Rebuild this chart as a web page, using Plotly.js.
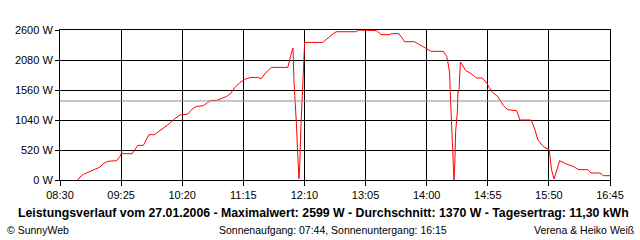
<!DOCTYPE html>
<html>
<head>
<meta charset="utf-8">
<script src="https://cdn.plot.ly/plotly-3.0.1.min.js"></script>
<style>html,body{margin:0;padding:0;background:#fff;}#chart{width:640px;height:240px;}</style>
</head>
<body>
<div id="chart"></div>
<script>
var day = "2006-01-27";
var times = ["08:46","08:48","08:51","08:55","08:58","09:02","09:06","09:09","09:13","09:21","09:24","09:25","09:35","09:40","09:45","09:48","09:50","09:55","10:00","10:05","10:09","10:13","10:18","10:25","10:30","10:33","10:39","10:43","10:46","10:51","10:55","11:00","11:04","11:07","11:12","11:17","11:22","11:28","11:31","11:35","11:40","11:55","11:58","11:59:40","12:00:35","12:01:55","12:02:50","12:03:40","12:04:35","12:05:05","12:05:40","12:06:00","12:06:55","12:07:50","12:08:40","12:09:35","12:10:10","12:26:30","12:29","12:33","12:37","12:39","12:57","12:58","13:08","13:15","13:19","13:27","13:28","13:35","13:38","13:40","13:49","13:52","13:57","14:01","14:04","14:15","14:18","14:19","14:20:40","14:21:25","14:22:20","14:23:10","14:24:05","14:24:35","14:25:10","14:26:05","14:27:40","14:28:10","14:29:05","14:29:40","14:30:20","14:31:10","14:35","14:40","14:45","14:50","14:54","14:56","14:59","15:04","15:09","15:13","15:21","15:24","15:34","15:37","15:40","15:45","15:50","15:50:40","15:52:20","15:54:40","15:56:50","15:59:40","16:05:40","16:11:40","16:17","16:25","16:28","16:36","16:39","16:45"];
var watts = [0,52,97,126,161,190,225,283,323,335,410,456,456,600,600,699,785,785,854,929,985,1057,1127,1144,1248,1276,1288,1345,1380,1380,1409,1449,1508,1595,1692,1751,1778,1778,1756,1855,1952,1952,2184,2288,1709,1335,958,555,179,22,208,555,958,1362,1825,2172,2385,2385,2427,2490,2553,2570,2570,2599,2599,2588,2519,2519,2536,2536,2461,2397,2397,2363,2316,2259,2230,2230,2143,2056,1855,1421,1016,612,208,0,179,843,1190,1536,1536,1883,2045,2028,1900,1843,1768,1768,1681,1612,1525,1449,1288,1219,1201,1040,1040,901,699,582,525,468,179,17,149,335,277,236,179,179,121,121,75,75];
var average = 1370;
var yTicks = [0,520,1040,1560,2080,2600];
var xStart = "08:30", xEnd = "16:45";
var tickStepMin = 55;

var titleText = "Leistungsverlauf vom 27.01.2006 - Maximalwert: 2599 W - Durchschnitt: 1370 W - Tagesertrag: 11,30 kWh";
var leftNote = "\u00a9 SunnyWeb";
var midNote = "Sonnenaufgang: 07:44, Sonnenuntergang: 16:15";
var rightNote = "Verena & Heiko Wei\u00df";

var xs = times.map(function(t){ return day + " " + t; });
var F = "Liberation Sans, Arial, sans-serif";

var trace = {
  x: xs, y: watts, type: "scatter", mode: "lines",
  line: {color: "#ff0000", width: 1, shape: "linear"},
  hoverinfo: "skip"
};

var layout = {
  width: 640, height: 240,
  margin: {l: 60, r: 30, t: 30, b: 60, pad: 0},
  paper_bgcolor: "#ffffff", plot_bgcolor: "#ffffff",
  showlegend: false,
  font: {family: F, size: 11, color: "#000"},
  xaxis: {
    type: "date",
    range: [day + " " + xStart, day + " " + xEnd],
    tick0: day + " " + xStart, dtick: tickStepMin * 60000,
    tickformat: "%H:%M",
    showgrid: true, gridcolor: "#000", gridwidth: 1,
    showline: true, mirror: true, linecolor: "#000", linewidth: 1,
    zeroline: false,
    ticks: "outside", ticklen: 5, tickcolor: "#000", tickwidth: 1,
    tickfont: {family: F, size: 11, color: "#000"},
    fixedrange: true
  },
  yaxis: {
    range: [0, 2600],
    tickvals: yTicks,
    ticktext: yTicks.map(function(v){ return v + " W"; }),
    showgrid: true, gridcolor: "#000", gridwidth: 1,
    showline: true, mirror: true, linecolor: "#000", linewidth: 1,
    zeroline: false,
    ticks: "outside", ticklen: 4, tickcolor: "#000", tickwidth: 1,
    tickfont: {family: F, size: 11, color: "#000"},
    fixedrange: true
  },
  shapes: [{
    type: "line", xref: "paper", yref: "y",
    x0: 0, x1: 1, y0: average, y1: average,
    line: {color: "#8c8c8c", width: 1}, layer: "above"
  }],
  annotations: [
    {text: "<b>" + titleText + "</b>", xref: "paper", yref: "paper",
     x: (323 - 60) / 550, y: -0.22, xanchor: "center", yanchor: "middle",
     showarrow: false, font: {family: F, size: 12.3, color: "#000"}},
    {text: leftNote, xref: "paper", yref: "paper",
     x: (5 - 60) / 550, y: -0.335, xanchor: "left", yanchor: "middle",
     showarrow: false, font: {family: F, size: 10.5, color: "#000"}},
    {text: midNote, xref: "paper", yref: "paper",
     x: (333 - 60) / 550, y: -0.335, xanchor: "center", yanchor: "middle",
     showarrow: false, font: {family: F, size: 10.5, color: "#000"}},
    {text: rightNote, xref: "paper", yref: "paper",
     x: (636 - 60) / 550, y: -0.335, xanchor: "right", yanchor: "middle",
     showarrow: false, font: {family: F, size: 10.5, color: "#000"}}
  ]
};

Plotly.newPlot("chart", [trace], layout, {displayModeBar: false, staticPlot: true});
</script>
</body>
</html>
